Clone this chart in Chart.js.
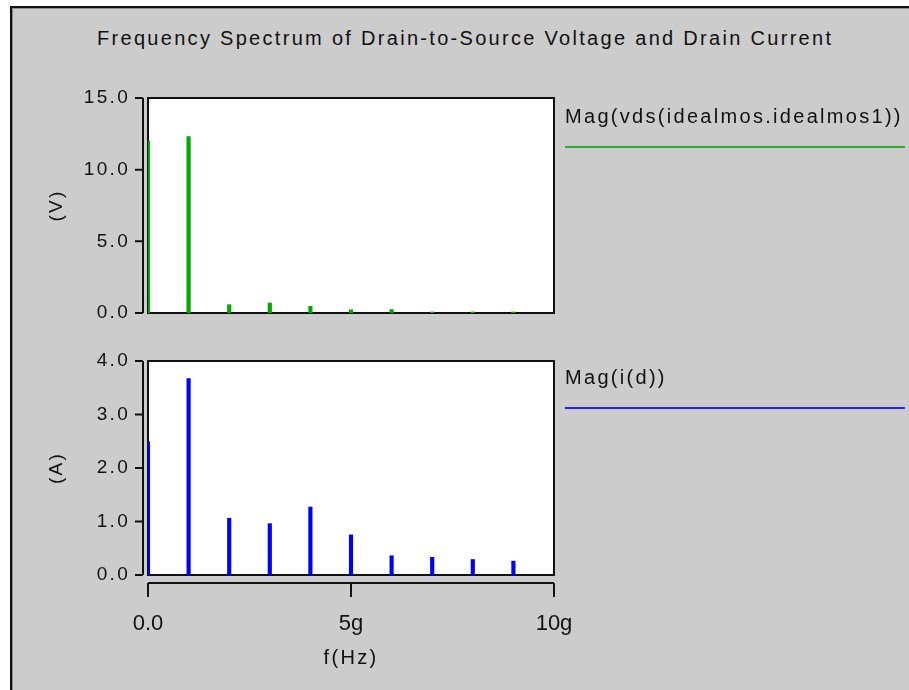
<!DOCTYPE html>
<html><head><meta charset="utf-8">
<script src="https://cdn.jsdelivr.net/npm/chart.js@4.4.1/dist/chart.umd.min.js"></script>
<style>
html,body{margin:0;padding:0;background:#fff;width:909px;height:690px;overflow:hidden;}
#frame{position:absolute;left:10px;top:6px;width:905px;height:690px;background:#cccccc;border-left:2px solid #111;border-top:2px solid #111;box-shadow:inset 1px 1px 0 #8a8a8a;}
canvas{position:absolute;left:0;top:0;}
.txt{position:absolute;font-family:"Liberation Sans",Arial,sans-serif;font-size:20px;line-height:20px;color:#111;letter-spacing:2.3px;white-space:nowrap;}
.line{position:absolute;height:2px;}
</style></head>
<body>
<div id="frame"></div>
<div class="txt" id="title" style="left:97px;top:28px;"></div>
<canvas id="c1" width="909" height="690"></canvas>
<canvas id="c2" width="909" height="690"></canvas>
<div class="txt" id="leg1" style="left:565px;top:106px;"></div>
<div class="line" style="left:565px;top:146px;width:340px;background:#33aa33;"></div>
<div class="txt" id="leg2" style="left:565px;top:367px;"></div>
<div class="line" style="left:565px;top:407px;width:340px;background:#2222ff;"></div>
<script>
const chartTitle = 'Frequency Spectrum of Drain-to-Source Voltage and Drain Current';
const seriesNames = ['Mag(vds(idealmos.idealmos1))', 'Mag(i(d))'];
const freqHz = [0, 1e9, 2e9, 3e9, 4e9, 5e9, 6e9, 7e9, 8e9, 9e9];
const vdsMag = [12.0, 12.3, 0.58, 0.70, 0.47, 0.22, 0.24, 0.07, 0.07, 0.07];
const idMag = [2.49, 3.67, 1.06, 0.96, 1.27, 0.75, 0.36, 0.33, 0.29, 0.26];
const vTickValues = [0, 5, 10, 15];
const vTickLabels = ['0.0', '5.0', '10.0', '15.0'];
const aTickValues = [0, 1, 2, 3, 4];
const aTickLabels = ['0.0', '1.0', '2.0', '3.0', '4.0'];
const xTickValues = [0, 5e9, 1e10];
const xTickLabels = ['0.0', '5g', '10g'];
const yTitles = ['(V)', '(A)'];
const xTitle = 'f(Hz)';

document.getElementById('title').textContent = chartTitle;
document.getElementById('leg1').textContent = seriesNames[0];
document.getElementById('leg2').textContent = seriesNames[1];

const FONT = '"Liberation Sans", Arial, sans-serif';
const INK = '#111';
const SPACING = '2.3px';

function framePlugin(withXAxis) {
  return {
    id: 'frameAxes',
    beforeUpdate(chart) { chart.ctx.letterSpacing = SPACING; },
    beforeDraw(chart) { chart.ctx.letterSpacing = SPACING; },
    beforeDatasetsDraw(chart) {
      const {ctx, chartArea: a} = chart;
      ctx.save();
      ctx.fillStyle = '#fff';
      ctx.fillRect(a.left, a.top, a.right - a.left, a.bottom - a.top);
      ctx.strokeStyle = INK;
      ctx.lineWidth = 2;
      ctx.strokeRect(a.left, a.top, a.right - a.left, a.bottom - a.top);
      ctx.restore();
    },
    afterDatasetsDraw(chart) { chart.ctx.letterSpacing = '0px'; },
    afterDraw(chart) {
      const {ctx, chartArea: a} = chart;
      const y = chart.scales.y;
      ctx.save();
      ctx.strokeStyle = INK;
      ctx.lineWidth = 2;
      const ax = a.left - 5;
      ctx.beginPath();
      ctx.moveTo(ax, y.getPixelForValue(y.max));
      ctx.lineTo(ax, y.getPixelForValue(y.min));
      y.ticks.forEach(t => {
        const py = y.getPixelForValue(t.value);
        ctx.moveTo(ax - 8, py);
        ctx.lineTo(ax, py);
      });
      ctx.stroke();
      if (withXAxis) {
        const x = chart.scales.x;
        const ay = a.bottom + 8;
        ctx.beginPath();
        ctx.moveTo(x.getPixelForValue(x.min), ay);
        ctx.lineTo(x.getPixelForValue(x.max), ay);
        x.ticks.forEach(t => {
          const px = x.getPixelForValue(t.value);
          ctx.moveTo(px, ay);
          ctx.lineTo(px, ay + 14);
        });
        ctx.stroke();
      }
      ctx.restore();
    }
  };
}

function yScale(max, tv, tl, title) {
  return {
    min: 0, max: max,
    afterBuildTicks: s => { s.ticks = tv.map(v => ({value: v})); },
    afterFit: s => { s.width = 148; },
    grid: {display: false, drawTicks: false},
    border: {display: false},
    ticks: {padding: 18, color: INK, font: {family: FONT, size: 19},
      callback: v => tl[tv.indexOf(v)]},
    title: {display: true, text: title, color: INK, font: {family: FONT, size: 19},
      padding: {top: 45, bottom: 0}}
  };
}

new Chart(document.getElementById('c1'), {
  type: 'bar',
  data: {datasets: [{
    label: seriesNames[0],
    data: freqHz.map((f, i) => ({x: f, y: vdsMag[i]})),
    backgroundColor: '#00a800', borderWidth: 0, barThickness: 3.5
  }]},
  options: {
    responsive: false, animation: false, events: [],
    layout: {padding: {left: 0, right: 355, top: 98, bottom: 377}},
    plugins: {legend: {display: false}, title: {display: false}, tooltip: {enabled: false}},
    scales: {
      x: {type: 'linear', display: false, offset: false, min: 0, max: 1e10},
      y: yScale(15, vTickValues, vTickLabels, yTitles[0])
    }
  },
  plugins: [framePlugin(false)]
});

new Chart(document.getElementById('c2'), {
  type: 'bar',
  data: {datasets: [{
    label: seriesNames[1],
    data: freqHz.map((f, i) => ({x: f, y: idMag[i]})),
    backgroundColor: '#0000ff', borderWidth: 0, barThickness: 3.5
  }]},
  options: {
    responsive: false, animation: false, events: [],
    layout: {padding: {left: 0, right: 355, top: 361, bottom: 15}},
    plugins: {legend: {display: false}, title: {display: false}, tooltip: {enabled: false}},
    scales: {
      x: {
        type: 'linear', offset: false, min: 0, max: 1e10,
        afterBuildTicks: s => { s.ticks = xTickValues.map(v => ({value: v})); },
        afterFit: s => { s.height = 100; },
        grid: {display: false, drawTicks: false, offset: false},
        border: {display: false},
        ticks: {padding: 36, z: 1, maxRotation: 0, autoSkip: false, color: INK,
          font: {family: FONT, size: 22},
          callback: v => xTickLabels[xTickValues.indexOf(v)]},
        title: {display: true, text: xTitle, color: INK, font: {family: FONT, size: 20},
          padding: {top: 0, bottom: 5}}
      },
      y: yScale(4, aTickValues, aTickLabels, yTitles[1])
    }
  },
  plugins: [framePlugin(true)]
});
</script>
</body></html>
